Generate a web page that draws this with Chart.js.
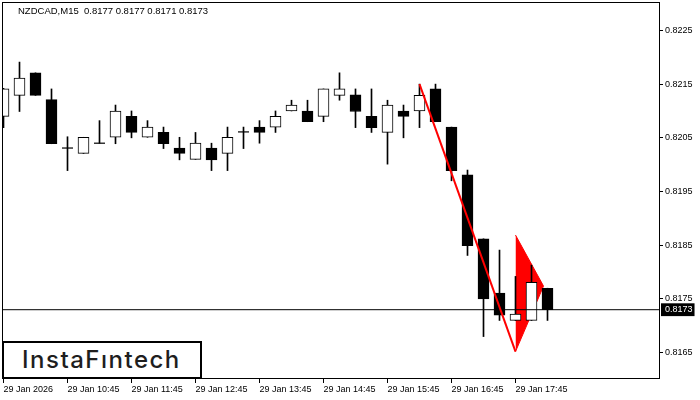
<!DOCTYPE html>
<html>
<head>
<meta charset="UTF-8">
<title>NZDCAD,M15</title>
<script src="https://cdn.jsdelivr.net/npm/chart.js@4.4.0/dist/chart.umd.min.js"></script>
<style>
  body { margin: 0; background: #fff; }
  #wrap { position: relative; width: 700px; height: 400px; }
  #head { position: absolute; left: 18px; top: 5px; font: 9.5px "Liberation Sans", Arial, sans-serif; color: #000; white-space: pre; }
  #logo { position: absolute; left: 2px; top: 341px; width: 196px; height: 34px; border: 2px solid #000; background: #fff;
          font: 500 24px Inter, sans-serif; letter-spacing: 1.5px; line-height: 33px; color: #1e1e1e; }
  #logo span { position: absolute; left: 18px; top: 0; }
</style>
</head>
<body>
<div id="wrap">
  <canvas id="myChart" width="700" height="400"></canvas>
  <div id="head"></div>
  <div id="logo"><span>InstaFıntech</span></div>
</div>
<script>
// NZDCAD M15 candles, 29 Jan 2026 from 09:45
var symbol = 'NZDCAD,M15';
var open  = [0.8209, 0.82129, 0.82171, 0.82121, 0.82031, 0.82021, 0.8204, 0.82051, 0.8209, 0.82051,
             0.8206, 0.82031, 0.8201, 0.82031, 0.82021, 0.82061, 0.8207, 0.8207, 0.8210, 0.8210,
             0.8209, 0.82129, 0.8213, 0.8209, 0.8206, 0.8210, 0.8210, 0.82141, 0.8207, 0.81981,
             0.81862, 0.81761, 0.8171, 0.8171, 0.8177];
var high  = [0.82142, 0.82191, 0.82171, 0.82141, 0.82052, 0.82051, 0.82082, 0.82111, 0.8210, 0.82082,
             0.8207, 0.82051, 0.8206, 0.8204, 0.8207, 0.8207, 0.82082, 0.8210, 0.8212, 0.8212,
             0.82141, 0.82171, 0.82141, 0.82141, 0.8212, 0.82111, 0.8215, 0.8215, 0.8207, 0.8199,
             0.81862, 0.81841, 0.81792, 0.81813, 0.8177];
var low   = [0.82069, 0.82099, 0.82129, 0.82039, 0.81989, 0.82021, 0.8204, 0.82039, 0.8205, 0.82051,
             0.8203, 0.82009, 0.8201, 0.81989, 0.81989, 0.8203, 0.8204, 0.8206, 0.8210, 0.8208,
             0.8208, 0.8212, 0.82069, 0.8206, 0.82001, 0.8205, 0.82069, 0.8208, 0.8197, 0.81831,
             0.8168, 0.8171, 0.8171, 0.8171, 0.8171];
var close = [0.82141, 0.82161, 0.82129, 0.82039, 0.82031, 0.82051, 0.8204, 0.8210, 0.8206, 0.8207,
             0.82039, 0.82021, 0.8204, 0.82009, 0.82051, 0.82061, 0.8206, 0.8209, 0.82111, 0.8208,
             0.82141, 0.82141, 0.82099, 0.82069, 0.82111, 0.8209, 0.82129, 0.8208, 0.81989, 0.81849,
             0.8175, 0.8172, 0.81722, 0.81781, 0.8173];

var tickIdx    = [0, 4, 8, 12, 16, 20, 24, 28, 32];
var tickLabels = ['29 Jan 2026', '29 Jan 10:45', '29 Jan 11:45', '29 Jan 12:45', '29 Jan 13:45',
                  '29 Jan 14:45', '29 Jan 15:45', '29 Jan 16:45', '29 Jan 17:45'];
var yTicks = [0.8165, 0.8175, 0.8185, 0.8195, 0.8205, 0.8215, 0.8225];

// pattern: falling pole + pennant
var poleX = [26, 32];
var poleY = [0.8215, 0.81652];
var flagX = [32, 33.75];
var flagTop = [0.81869, 0.81774];
var flagBottom = [0.81652, 0.81774];

var n = open.length;
var lastClose = close[n - 1];
var xMin = -0.03125, xMax = 40.96875;

document.getElementById('head').textContent = symbol + '  ' +
  [open[n-1], high[n-1], low[n-1], close[n-1]].map(function(v) { return v.toFixed(4); }).join(' ');

var idx = open.map(function(_, i) { return i; });
var dojiIdx = idx.filter(function(i) { return open[i] === close[i]; });
function pts(xs, ys) { return xs.map(function(x, i) { return {x: x, y: ys[i]}; }); }

var framePlugin = {
  id: 'frame',
  beforeDatasetsDraw: function(chart) {
    var a = chart.chartArea, c = chart.ctx;
    c.save();
    c.strokeStyle = '#000';
    c.lineWidth = 1;
    c.strokeRect(a.left - 0.5, a.top - 0.5, a.right - a.left + 1, a.bottom - a.top);
    c.restore();
  }
};

Chart.defaults.font.family = '"Liberation Sans", Arial, sans-serif';
Chart.defaults.color = '#000';

var isLast = function(ctx) { return ctx.tick && ctx.tick.value === lastClose; };

var ctx = document.getElementById('myChart').getContext('2d');
var chart = new Chart(ctx, {
  type: 'bar',
  data: {
    datasets: [
      { type: 'line', data: pts(poleX, poleY), borderColor: '#ff0000', borderWidth: 2,
        pointRadius: 0, order: 0 },
      { type: 'line', data: pts([xMin, xMax], [lastClose, lastClose]), borderColor: '#000',
        borderWidth: 1, pointRadius: 0, order: 1 },
      { type: 'line', data: dojiIdx.map(function(i) { return {x: i, y: close[i]}; }),
        showLine: false, pointStyle: 'line', pointRadius: 5.5, pointBorderWidth: 1.2,
        pointBorderColor: '#000', order: 2 },
      { type: 'bar', data: idx.map(function(i) { return {x: i, y: [open[i], close[i]]}; }),
        backgroundColor: idx.map(function(i) { return close[i] >= open[i] ? '#ffffff' : '#000000'; }),
        borderColor: '#000', borderWidth: 1, borderSkipped: false, barThickness: 11,
        grouped: false, order: 2 },
      { type: 'bar', data: idx.map(function(i) { return {x: i, y: [low[i], high[i]]}; }),
        backgroundColor: '#000', borderWidth: 0, barThickness: 1, grouped: false, order: 3 },
      { type: 'line', data: pts(flagX, flagTop), borderColor: '#ff0000', backgroundColor: '#ff0000',
        borderWidth: 1, pointRadius: 0, fill: false, order: 4 },
      { type: 'line', data: pts(flagX, flagBottom), borderColor: '#ff0000', backgroundColor: '#ff0000',
        borderWidth: 1, pointRadius: 0, fill: 5, order: 5 }
    ]
  },
  options: {
    responsive: false,
    animation: false,
    devicePixelRatio: 1,
    layout: { autoPadding: false, padding: { left: 3, top: 3, right: 0, bottom: 0 } },
    plugins: { legend: { display: false }, tooltip: { enabled: false } },
    scales: {
      x: {
        type: 'linear', min: xMin, max: xMax, offset: false,
        afterFit: function(s) { s.height = 21; s.paddingLeft = 0; s.paddingRight = 0; },
        afterBuildTicks: function(s) { s.ticks = tickIdx.map(function(v) { return {value: v}; }); },
        grid: { drawOnChartArea: false, drawTicks: true, tickLength: 4, color: '#000', offset: false },
        border: { display: false },
        ticks: {
          align: 'start', autoSkip: false, maxRotation: 0, padding: 1, color: '#000',
          font: { size: 9 },
          callback: function(v) { return tickLabels[tickIdx.indexOf(v)]; }
        }
      },
      y: {
        position: 'right', min: 0.81601, max: 0.82301, beginAtZero: false,
        afterFit: function(s) { s.width = 41; s.paddingTop = 0; s.paddingBottom = 0; },
        afterBuildTicks: function(s) {
          s.ticks = yTicks.concat([lastClose]).sort().map(function(v) { return {value: v}; });
        },
        grid: {
          drawOnChartArea: false, drawTicks: true, tickLength: 4,
          color: function(c) { return isLast(c) ? 'rgba(0,0,0,0)' : '#000'; }
        },
        border: { display: false },
        ticks: {
          autoSkip: false, padding: 2, font: { size: 9 },
          color: function(c) { return isLast(c) ? '#fff' : '#000'; },
          showLabelBackdrop: function(c) { return isLast(c); },
          backdropColor: '#000',
          backdropPadding: { left: 4, right: 2, top: 1, bottom: 1 },
          callback: function(v) { return v.toFixed(4); }
        }
      }
    }
  },
  plugins: [framePlugin]
});
</script>
</body>
</html>
